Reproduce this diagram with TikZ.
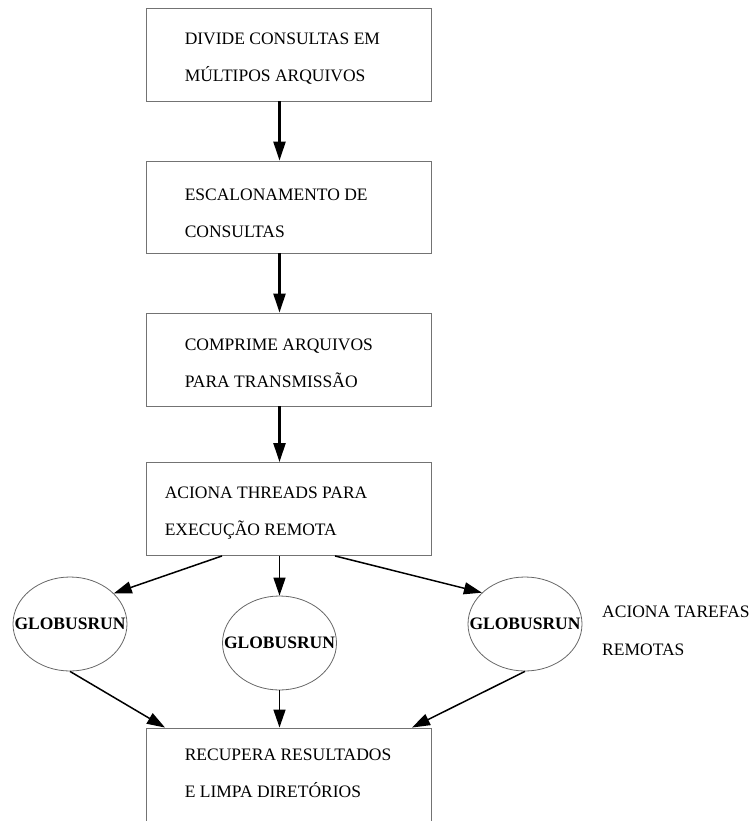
\documentclass[tikz,border=0pt]{standalone}
\usepackage{fontspec}
\setmainfont{Liberation Serif}
\usetikzlibrary{arrows.meta,shapes.geometric,calc}
\begin{document}
\begin{tikzpicture}[x=1pt,y=-1pt,
  stepbox/.style={draw=black!55, line width=0.9pt, rectangle,
    minimum width=285pt, minimum height=93pt, inner sep=0pt},
  steptext/.style={anchor=west, align=left, inner sep=0pt,
    font=\fontsize{17.5}{37}\selectfont},
  job/.style={draw=black!60, line width=0.8pt, ellipse,
    minimum width=114pt, minimum height=94pt, inner sep=0pt,
    font=\fontsize{17.5}{20}\selectfont\bfseries},
  note/.style={anchor=west, align=left, inner sep=0pt,
    font=\fontsize{17.5}{38}\selectfont},
  flow/.style={-{Triangle[length=19pt,width=12pt]}, line width=2.4pt},
  fork/.style={-{Triangle[length=18pt,width=12pt]}, line width=1.5pt},
]
\useasboundingbox (0,0) rectangle (753,821);
\clip (0,0) rectangle (753,821);

% pipeline steps
\node[stepbox] (b1) at (288.5,54.5) {};
\node[steptext] (t1) at ($(b1.west)+(39,4)$) {DIVIDE CONSULTAS EM\\MÚLTIPOS ARQUIVOS};
\node[stepbox, minimum height=92pt] (b2) at (288.5,207) {};
\node[steptext] (t2) at ($(b2.west)+(39,6)$) {ESCALONAMENTO DE\\CONSULTAS};
\node[stepbox] (b3) at (288.5,359.5) {};
\node[steptext] (t3) at ($(b3.west)+(39,4)$) {COMPRIME ARQUIVOS\\PARA TRANSMISSÃO};
\node[stepbox] (b4) at (288.5,509) {};
\node[steptext] (t4) at ($(b4.west)+(19,4)$) {ACIONA THREADS PARA\\EXECUÇÃO REMOTA};
\node[stepbox, minimum height=140pt] (b5) at (288.5,798) {};
\node[steptext] (t5) at ($(b5.north west)+(39,46)$) {RECUPERA RESULTADOS\\E LIMPA DIRETÓRIOS};

% remote jobs (label overlaps the outline, as drawn)
\node[job] (c1) at (70,624) {\makebox[0pt]{GLOBUSRUN}};
\node[job] (c2) at (279.5,643) {\makebox[0pt]{GLOBUSRUN}};
\node[job] (c3) at (525,624) {\makebox[0pt]{GLOBUSRUN}};
\node[note] (n1) at (602,631) {ACIONA TAREFAS\\REMOTAS};

% connectors
\draw[flow] (b1.south -| c2) -- (b2.north -| c2);
\draw[flow] (b2.south -| c2) -- (b3.north -| c2);
\draw[flow] (b3.south -| c2) -- (b4.north -| c2);
\draw[fork] ($(b4.south)+(-66.5,0)$) -- (c1.35);
\draw[fork] (b4.south -| c2) -- (c2.north);
\draw[fork] ($(b4.south)+(46.5,0)$) -- (c3.144);
\draw[fork] (c1.south) -- ($(b5.north)+(-123.5,0)$);
\draw[fork] (c2.south) -- (b5.north -| c2);
\draw[fork] (c3.south) -- ($(b5.north)+(123.5,0)$);
\end{tikzpicture}
\end{document}
